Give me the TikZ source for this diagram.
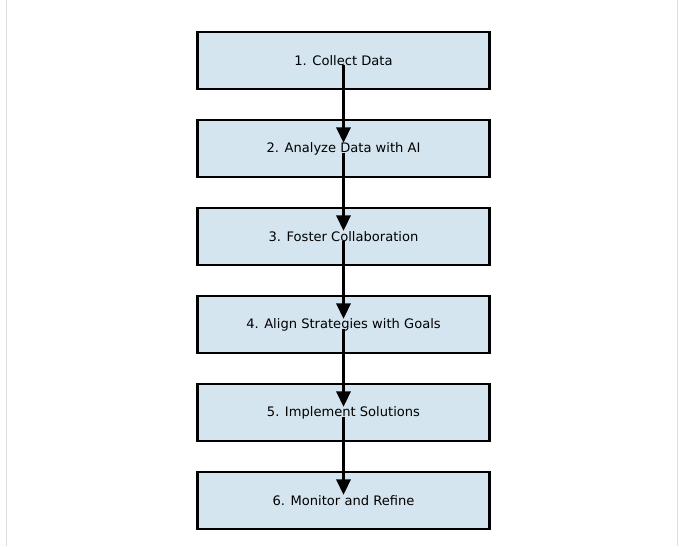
\documentclass[tikz,border=0pt]{standalone}
\usepackage{fontspec}
\setmainfont{DejaVu Sans}
\usetikzlibrary{arrows.meta,positioning}
\definecolor{boxfill}{RGB}{213,229,240}
\definecolor{framegray}{RGB}{222,222,222}
\tikzset{
  stepbox/.style={draw=black, fill=boxfill, line width=1.9pt,
    minimum width=7.3cm, minimum height=1.42cm, inner sep=0pt,
    font=\fontsize{9.3}{11}\selectfont},
  flow/.style={line width=2.1pt, -{Triangle[width=10pt,length=11pt]}}
}
\begin{document}
\begin{tikzpicture}[x=0.025cm,y=-0.025cm]
\useasboundingbox (0,0) rectangle (681,546);
\draw[framegray, line width=1.2pt] (6.5,0) -- (6.5,546);
\draw[framegray, line width=1.2pt] (677.5,0) -- (677.5,546);

\foreach \n/\txt in {1/{1. Collect Data},2/{2. Analyze Data with AI},
  3/{3. Foster Collaboration},4/{4. Align Strategies with Goals},
  5/{5. Implement Solutions},6/{6. Monitor and Refine}} {
  \node[stepbox] (s\n) at (343.5,{60.5+88*(\n-1)}) {\txt};
}

\foreach \n [evaluate=\n as \m using int(\n+1)] in {1,...,5} {
  \draw[flow] ([yshift=-3pt]s\n.center) -- ([yshift=4pt]s\m.center);
}
\end{tikzpicture}
\end{document}
